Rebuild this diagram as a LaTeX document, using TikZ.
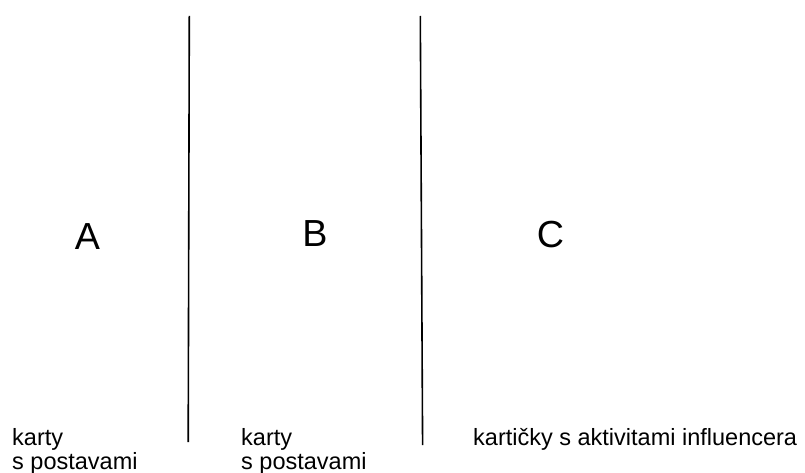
\documentclass[tikz,border=0pt]{standalone}
\usepackage{fontspec}
\setmainfont{Liberation Sans}
\begin{document}
\begin{tikzpicture}[x=1pt,y=-1pt,
  letter/.style={anchor=base,inner sep=0pt,font=\fontsize{37.7}{40}\selectfont},
  caption/.style={anchor=base west,inner sep=0pt,font=\fontsize{23.5}{24}\selectfont},
  divider/.style={line width=1.6pt,black}]
\useasboundingbox[fill=white] (0,0) rectangle (805,473);
\coordinate (l1t) at (189.3,16);
\coordinate (l1b) at (188.2,442);
\coordinate (l2t) at (420.3,16);
\coordinate (l2b) at (422.6,445);
\draw[divider] (l1t) -- (l1b);
\draw[divider] (l2t) -- (l2b);
\node[letter] (A) at (87.5,249) {A};
\node[letter] (B) at (315,246) {B};
\node[letter] (C) at (550.5,247) {C};
\node[caption] (k1) at (12,445) {karty};
\node[caption] (p1) at (12,469) {s postavami};
\node[caption] (k2) at (241,445) {karty};
\node[caption] (p2) at (241,469) {s postavami};
\node[caption] (k3) at (473,445) {kartičky s aktivitami influencera};
\end{tikzpicture}
\end{document}
